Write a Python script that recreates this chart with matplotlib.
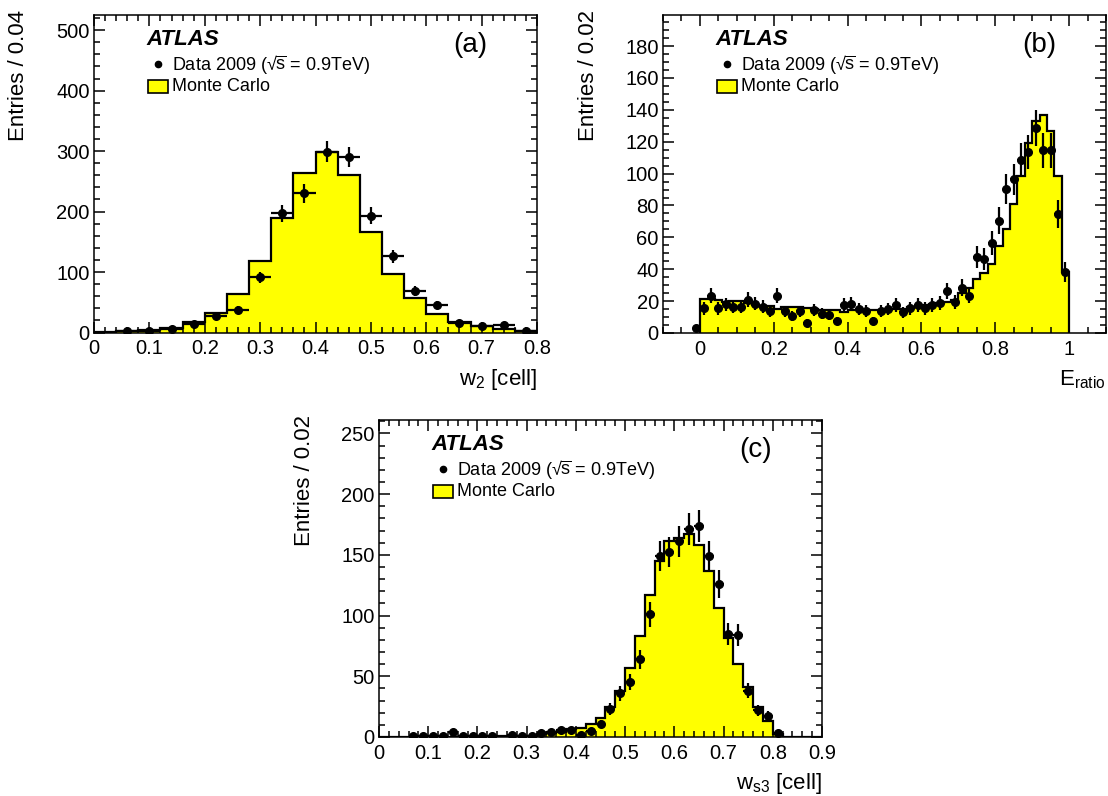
import numpy as np
import matplotlib
matplotlib.use("Agg")
import matplotlib.pyplot as plt
from matplotlib.patches import Rectangle
from matplotlib.ticker import MultipleLocator, FuncFormatter

plt.rcParams['font.family'] = ['Liberation Sans', 'DejaVu Sans']
plt.rcParams['mathtext.fontset'] = 'custom'
plt.rcParams['mathtext.rm'] = 'Liberation Sans'
plt.rcParams['mathtext.it'] = 'Liberation Sans:italic'
plt.rcParams['mathtext.default'] = 'regular'

# ---------------- Panel (a): w2 ----------------
a_bin_lo, a_bin_hi, a_bin_w = 0.0, 0.8, 0.04
a_mc = [1.5, 2, 4.5, 8, 17, 32, 64, 118, 190, 263, 299, 260, 166, 96, 57, 31, 18, 11, 6, 3]
a_data = [0, 3, 2, 5, 14, 27, 38, 91, 197, 230, 299, 290, 193, 126, 68, 45, 16, 10, 12, 3]

# ---------------- Panel (b): E_ratio ----------------
b_bin_lo, b_bin_hi, b_bin_w = 0.0, 1.0, 0.02
b_mc = [21.5, 21.5, 21, 19.7, 19.9, 20, 19, 17.8, 17.2, 17.2,
        15, 16.5, 16, 16.3, 15.7, 15.3, 14.4, 14.6, 14.6, 13.2,
        14.4, 14.4, 14.4, 14.2, 14.2, 14.9, 15, 15, 16, 16.5,
        17.4, 18, 19, 19.7, 20.5, 25, 28, 33.7, 37.4, 43,
        54.8, 65, 81, 98.7, 119, 133, 136.8, 127, 98.5, 38.5]
b_data_under = 3   # data point in bin [-0.02, 0]
b_data = [15.5, 23.5, 15.5, 18, 16.5, 16.5, 21, 18.5, 16.5, 13.5,
          23.5, 13.5, 10.5, 13.5, 6.5, 14.5, 12, 11.5, 7.5, 17.5,
          18.5, 15, 14, 7.5, 14, 15, 17.5, 13, 15.5, 17.5,
          15.5, 17.5, 19, 26.5, 19.5, 28.5, 23.5, 47.5, 46.5, 56.5,
          70.5, 90.5, 96.5, 108.5, 113.5, 128.5, 114.5, 114.5, 74.5, 38.5]

# ---------------- Panel (c): w_s3 ----------------
c_bin_lo, c_bin_hi, c_bin_w = 0.0, 0.9, 0.02
c_mc = [0, 0, 0, 0, 0, 0, 0, 0, 0, 0, 0, 0,
        1, 1, 1, 1.2, 2.5, 3.5, 4.5, 6.5, 7.5, 10.5, 16, 25, 38, 57, 83, 117, 145,
        161.5, 163.5, 167, 158, 136.5, 106, 81.5, 60, 41, 24.5, 13, 2.7,
        0, 0, 0, 0]
c_data = [0, 0, 0, 1, 1, 1, 1, 4, 1, 1, 1, 1,
          0, 2, 1, 1, 3, 4, 5.5, 5.5, 2, 5, 11, 23, 36, 45, 64, 101, 149,
          152, 161, 171, 174, 149, 126, 85, 84, 38, 22, 17, 3,
          0, 0, 0, 0]

# tick / range settings
a_xlim, a_ylim = (0.0, 0.8), (0, 525)
b_xlim, b_ylim = (-0.1, 1.1), (0, 199.5)
c_xlim, c_ylim = (0.0, 0.9), (0, 261)

legend_data = "Data 2009 (\u221a$\\overline{s}$ = 0.9TeV)"
legend_mc = "Monte Carlo"

fig = plt.figure(figsize=(11.08, 7.96), dpi=100)
W, H = 1108.0, 796.0


def make_ax(left, top, right, bottom):
    return fig.add_axes([left / W, 1 - bottom / H, (right - left) / W, (bottom - top) / H])


def fmt(v, pos):
    s = f"{round(v, 3):g}"
    return s


def draw_panel(ax, lo, hi, bw, mc, data, xlim, ylim, xmaj, xmin, ymaj, ymin,
               ylabel, xlabel, tag, xtick_range=None, under=None):
    edges = np.arange(len(mc) + 1) * bw + lo
    ax.stairs(mc, edges, fill=True, color='#ffff00', baseline=0, zorder=1)
    ax.stairs(mc, edges, fill=False, color='black', linewidth=1.6, baseline=0, zorder=2)
    centers = edges[:-1] + bw / 2
    d = np.asarray(data, dtype=float)
    if under is not None:
        centers = np.concatenate([[lo - bw / 2], centers])
        d = np.concatenate([[under], d])
    m = d > 0
    ax.errorbar(centers[m], d[m], yerr=np.sqrt(d[m]), xerr=bw / 2, fmt='o',
                color='black', ms=5.5, elinewidth=1.6, capsize=0, zorder=3)
    ax.set_xlim(*xlim)
    ax.set_ylim(*ylim)
    if xtick_range is None:
        ax.xaxis.set_major_locator(MultipleLocator(xmaj))
    else:
        ax.set_xticks(np.round(np.arange(xtick_range[0], xtick_range[1] + 1e-9, xmaj), 3))
    ax.xaxis.set_minor_locator(MultipleLocator(xmin))
    ax.yaxis.set_major_locator(MultipleLocator(ymaj))
    ax.yaxis.set_minor_locator(MultipleLocator(ymin))
    ax.xaxis.set_major_formatter(FuncFormatter(fmt))
    ax.yaxis.set_major_formatter(FuncFormatter(fmt))
    ax.tick_params(which='both', direction='in', top=True, right=True, width=1.1,
                   labelsize=14.5)
    ax.tick_params(which='major', length=8)
    ax.tick_params(which='minor', length=4)
    ax.tick_params(axis='x', which='major', pad=5)
    ax.tick_params(axis='y', which='major', pad=3)
    for s in ax.spines.values():
        s.set_linewidth(1.1)
    # titles
    wpx = ax.get_position().width * W
    hpx = ax.get_position().height * H
    ax.text(-75 / wpx, 1.015, ylabel, rotation=90, ha='center', va='top',
            fontsize=16, transform=ax.transAxes)
    ax.text(1.0, -47 / hpx, xlabel, ha='right', va='center', fontsize=16,
            transform=ax.transAxes)
    # legend / labels
    ax.text(0.118, 0.922, "ATLAS", fontsize=16, fontweight='bold', fontstyle='italic',
            ha='left', va='center', transform=ax.transAxes)
    ax.plot([0.145], [0.845], 'o', color='black', ms=4.5, transform=ax.transAxes,
            clip_on=False)
    ax.text(0.176, 0.845, legend_data, fontsize=13, ha='left', va='center',
            transform=ax.transAxes)
    ax.add_patch(Rectangle((0.122, 0.755), 0.045, 0.04, transform=ax.transAxes,
                           facecolor='#ffff00', edgecolor='black', linewidth=1.2,
                           clip_on=False, zorder=5))
    ax.text(0.176, 0.776, legend_mc, fontsize=13, ha='left', va='center',
            transform=ax.transAxes)
    ax.text(0.85, 0.905, tag, fontsize=20, ha='center', va='center',
            transform=ax.transAxes)


ax_a = make_ax(94, 15, 537, 332.5)
draw_panel(ax_a, a_bin_lo, a_bin_hi, a_bin_w, a_mc, a_data, a_xlim, a_ylim,
           0.1, 0.02, 100, 20, "Entries / 0.04", "w$_{2}$ [cell]", "(a)")

ax_b = make_ax(663, 15, 1106, 333)
draw_panel(ax_b, b_bin_lo, b_bin_hi, b_bin_w, b_mc, b_data, b_xlim, b_ylim,
           0.2, 0.05, 20, 5, "Entries / 0.02", "E$_{ratio}$", "(b)",
           xtick_range=(0.0, 1.0), under=b_data_under)

ax_c = make_ax(379, 420, 822, 737)
draw_panel(ax_c, c_bin_lo, c_bin_hi, c_bin_w, c_mc, c_data, c_xlim, c_ylim,
           0.1, 0.02, 50, 10, "Entries / 0.02", "w$_{s3}$ [cell]", "(c)")

fig.savefig("out.png", dpi=100)
